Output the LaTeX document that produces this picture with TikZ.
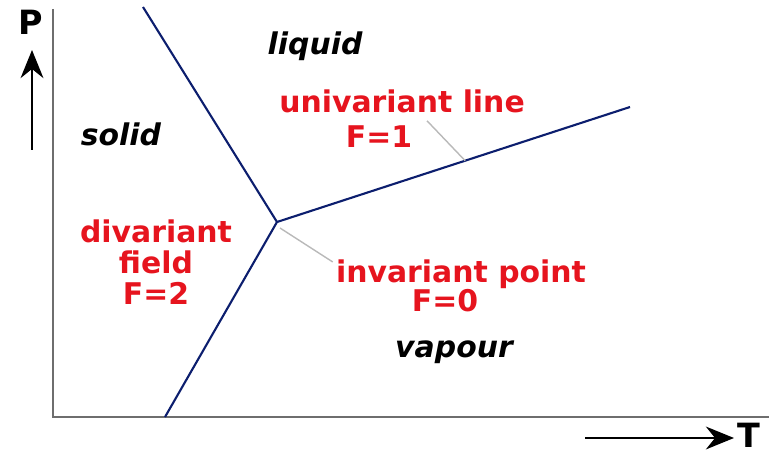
\documentclass[tikz,border=0pt]{standalone}
\usepackage{fontspec}
\setmainfont{DejaVu Sans}
\usepackage{tikz}
\usetikzlibrary{arrows.meta,positioning,calc}
\usepackage{xcolor}
\definecolor{phaseblue}{RGB}{12,30,110}
\definecolor{lblred}{RGB}{230,20,30}
\definecolor{axisgray}{RGB}{110,110,110}
\definecolor{leadgray}{RGB}{185,185,185}

\begin{document}
\begin{tikzpicture}[
    x=0.02cm, y=0.02cm,
    axis/.style={draw=axisgray, line width=1.7pt},
    boundary/.style={draw=phaseblue, line width=1.2pt},
    leader/.style={draw=leadgray, line width=0.8pt},
    phase/.style={font=\fontsize{17}{18}\selectfont\bfseries\itshape, inner sep=0pt, anchor=base},
    field/.style={font=\fontsize{17}{17.6}\selectfont\bfseries, text=lblred, inner sep=0pt, anchor=base, align=center},
    axislabel/.style={font=\fontsize{19}{19}\selectfont\bfseries, inner sep=0pt},
    arrow/.style={-{Stealth[length=16pt,width=13pt]}, line width=1.2pt}
]
\useasboundingbox (0,0) rectangle (769,454);

% axes
\coordinate (ptop) at (53,445);
\coordinate (origin) at (53,37);
\coordinate (tend) at (769,37);
\draw[axis] (ptop) -- (origin) -- (tend);

% phase boundaries
\coordinate (tp) at (277,232);
\coordinate (soltop) at (143,447);
\coordinate (subfoot) at (165,37);
\coordinate (vapend) at (630,347);
\draw[boundary] (soltop) -- (tp) -- (subfoot);
\draw[boundary] (tp) -- (vapend);

% axis arrows
\node[axislabel] (plab) at (31,432) {P};
\coordinate (ptail) at (32,304);
\coordinate (ptip) at (32,404);
\draw[arrow] (ptail) -- (ptip);
\node[axislabel] (tlab) at (749,19) {T};
\coordinate (ttail) at (585,16);
\coordinate (ttip) at (734,16);
\draw[arrow] (ttail) -- (ttip);

% phases
\node[phase] (liquid) at (315,399) {liquid};
\node[phase] (solid) at (121,308) {solid};
\node[phase] (vapour) at (454,96) {vapour};

% variance labels
\node[field] (uniline) at (402,341) {univariant line};
\node[field] (unif) at (379,306) {F=1};
\node[field] (divfield) at (156,150) {divariant\\field\\F=2};
\node[field] (invpt) at (461,172) {invariant point};
\node[field] (invf) at (445,142) {F=0};

\coordinate (onuni) at ($(tp)!0.533!(vapend)$);
\draw[leader] ($(uniline.south)+(25,-7)$) -- (onuni);
\draw[leader] ($(tp)+(3,-6)$) -- ($(invpt.north west)+(-3,-3)$);
\end{tikzpicture}
\end{document}
